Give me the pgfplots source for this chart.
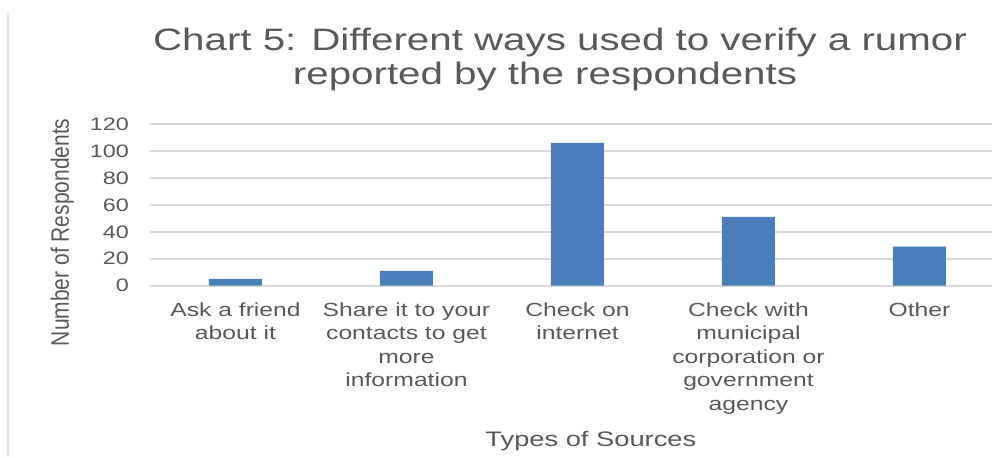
\documentclass[border=0pt]{standalone}
\usepackage{pgfplots}
\pgfplotsset{compat=1.18}
\usepackage{fontspec}
\setmainfont{Liberation Sans}[FakeStretch=1.3]
\newfontfamily\plainfont{Liberation Sans}
\usepackage{graphicx}
\definecolor{txt}{HTML}{595959}
\definecolor{barblue}{RGB}{74,126,187}
\definecolor{gridc}{HTML}{D9D9D9}
\begin{document}
\begin{tikzpicture}
\useasboundingbox (0pt,0pt) rectangle (496pt,228.5pt);
\draw[color=gray!22, line width=1.2pt] (4pt,0pt) -- (4pt,222.5pt);
\node[anchor=north, align=center, text=txt, font={\fontsize{15.5}{16.8}\selectfont}, inner sep=0pt] at (280pt,214.5pt) {Chart 5: Different ways used to verify a rumor\\reported by the respondents\hspace*{15pt}};
\begin{axis}[
  at={(75pt,85.65pt)}, anchor=south west,
  scale only axis,
  width=421.5pt, height=80.85pt,
  xmin=-0.5, xmax=4.43, ymin=0, ymax=120,
  ybar, bar width=26.5pt,
  axis line style={draw=none},
  major tick length=0pt,
  ymajorgrids, grid style={gridc, line width=0.8pt},
  ytick={0,20,...,120},
  xtick=data,
  xticklabels={{Ask a friend\\about it},{Share it to your\\contacts to get\\more\\information},{Check on\\internet},{Check with\\municipal\\corporation or\\government\\agency},{Other}},
  xticklabel style={align=center, text=txt, font={\fontsize{9.5}{11.7}\selectfont}, yshift=-5pt},
  yticklabel style={text=txt, font={\fontsize{9}{10}\selectfont}, xshift=-7pt},
  /pgf/number format/assume math mode=true,
  ylabel={\scalebox{1}[1.2]{\plainfont Number of Respondents}},
  ylabel style={at={(axis description cs:-0.104,0.33)}, anchor=center, text=txt, font={\fontsize{10.5}{12}\selectfont}},
  xlabel={Types of Sources},
  xlabel style={at={(axis description cs:0.523,-0.996)}, anchor=base, text=txt, font={\fontsize{10.5}{12}\selectfont}},
]
\addplot[fill=barblue, draw=none] coordinates {(0,5) (1,11) (2,106) (3,51) (4,29)};
\end{axis}
\end{tikzpicture}
\end{document}
